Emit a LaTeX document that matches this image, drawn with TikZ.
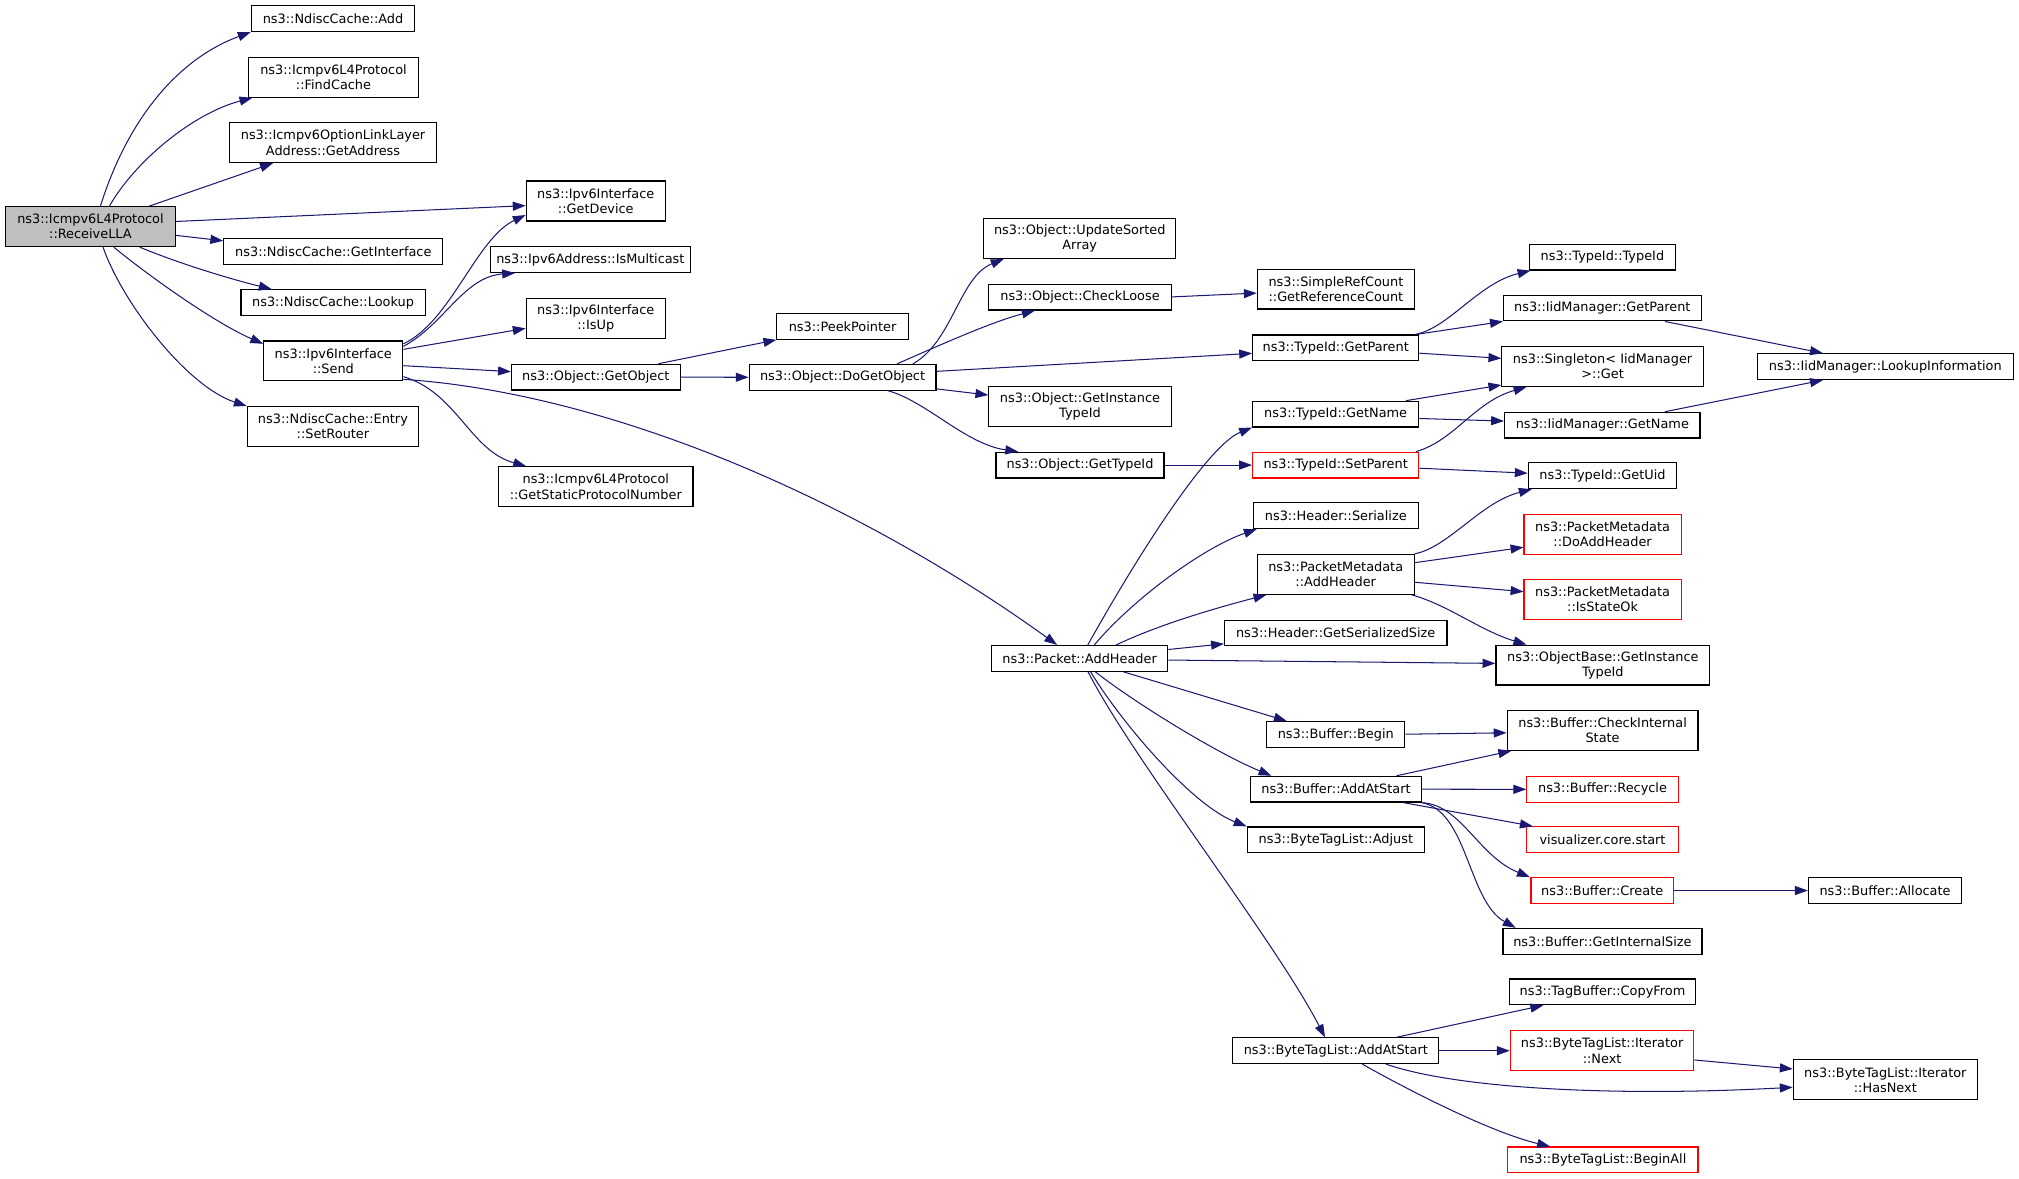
\documentclass[tikz,border=0pt]{standalone}
\usepackage{fontspec}
\usetikzlibrary{arrows.meta,calc}
\newfontfamily\dvfont{DejaVu Sans}
\definecolor{edgeblue}{HTML}{191970}
\definecolor{nodegray}{HTML}{BFBFBF}
\tikzset{
  box/.style={draw=black, line width=0.9pt, fill=white, inner sep=0pt, align=center,
    font=\dvfont\fontsize{10}{11.7}\selectfont, minimum height=20pt},
  tall/.style={minimum height=31pt},
  redbox/.style={box, draw=red},
  e/.style={draw=edgeblue, line width=0.8pt, -{Triangle[length=10pt,width=7pt]}},
}
\begin{document}
\begin{tikzpicture}[x=1pt, y=-1pt]
\useasboundingbox (0,0) rectangle (1568,915.6);
% column 1
\node[box, tall, fill=nodegray, minimum width=132pt] (rll) at (70.25,176) {ns3::Icmpv6L4Protocol\\::ReceiveLLA};
% column 2
\node[box, minimum width=127pt] (add) at (258.65,14.5) {ns3::NdiscCache::Add};
\node[box, tall, minimum width=132pt] (find) at (259,60) {ns3::Icmpv6L4Protocol\\::FindCache};
\node[box, tall, minimum width=161pt] (opt) at (258.65,110.8) {ns3::Icmpv6OptionLinkLayer\\Address::GetAddress};
\node[box, minimum width=170pt] (getint) at (258.85,195.5) {ns3::NdiscCache::GetInterface};
\node[box, minimum width=143pt] (lookup) at (258.65,235) {ns3::NdiscCache::Lookup};
\node[box, tall, minimum width=108pt] (send) at (258.85,280.3) {ns3::Ipv6Interface\\::Send};
\node[box, tall, minimum width=133pt] (setrouter) at (258.55,331.3) {ns3::NdiscCache::Entry\\::SetRouter};
% column 3
\node[box, tall, minimum width=108pt] (getdev) at (462.7,156.1) {ns3::Ipv6Interface\\::GetDevice};
\node[box, minimum width=155pt] (ismc) at (458.5,201.6) {ns3::Ipv6Address::IsMulticast};
\node[box, tall, minimum width=108pt] (isup) at (462.7,247.3) {ns3::Ipv6Interface\\::IsUp};
\node[box, minimum width=131pt] (getobj) at (462.75,292.9) {ns3::Object::GetObject};
\node[box, tall, minimum width=151pt] (gspn) at (462.7,378) {ns3::Icmpv6L4Protocol\\::GetStaticProtocolNumber};
% column 4
\node[box, minimum width=102pt] (peek) at (654.35,253.5) {ns3::PeekPointer};
\node[box, minimum width=145pt] (dogo) at (654.35,293) {ns3::Object::DoGetObject};
% column 5
\node[box, tall, minimum width=149pt] (usa) at (838.55,185.2) {ns3::Object::UpdateSorted\\Array};
\node[box, minimum width=141.5pt] (cl) at (838.75,230.8) {ns3::Object::CheckLoose};
\node[box, tall, minimum width=141.5pt] (git) at (838.75,315.7) {ns3::Object::GetInstance\\TypeId};
\node[box, minimum width=130.5pt] (gtid) at (838.75,361.2) {ns3::Object::GetTypeId};
\node[box, minimum width=137pt] (pah) at (838.45,511.3) {ns3::Packet::AddHeader};
% column 6
\node[box, tall, minimum width=122pt] (src) at (1037.5,224.5) {ns3::SimpleRefCount\\::GetReferenceCount};
\node[box, minimum width=129pt] (tgp) at (1037.35,270.2) {ns3::TypeId::GetParent};
\node[box, minimum width=129pt] (tgn) at (1037.3,321.6) {ns3::TypeId::GetName};
\node[redbox, minimum width=129pt] (tsp) at (1037.3,361.2) {ns3::TypeId::SetParent};
\node[box, minimum width=128pt] (hser) at (1037.4,400.5) {ns3::Header::Serialize};
\node[box, tall, minimum width=122pt] (pmah) at (1037.35,446) {ns3::PacketMetadata\\::AddHeader};
\node[box, minimum width=172.7pt] (gss) at (1037.35,491.6) {ns3::Header::GetSerializedSize};
\node[box, minimum width=107pt] (bbeg) at (1037.4,570.4) {ns3::Buffer::Begin};
\node[box, minimum width=132.3pt] (baas) at (1037.55,612.9) {ns3::Buffer::AddAtStart};
\node[box, minimum width=137.7pt] (btladj) at (1037.45,652.2) {ns3::ByteTagList::Adjust};
\node[box, minimum width=160pt] (btlaas) at (1037.45,816) {ns3::ByteTagList::AddAtStart};
% column 7
\node[box, minimum width=113pt] (tti) at (1244.45,199.7) {ns3::TypeId::TypeId};
\node[box, minimum width=153.6pt] (igp) at (1244.4,239.2) {ns3::IidManager::GetParent};
\node[box, tall, minimum width=156.4pt] (sing) at (1244.6,284.6) {ns3::Singleton< IidManager\\>::Get};
\node[box, minimum width=151.8pt] (ign) at (1244.4,330.2) {ns3::IidManager::GetName};
\node[box, minimum width=115.3pt] (guid) at (1244.55,369.5) {ns3::TypeId::GetUid};
\node[redbox, tall, minimum width=122pt] (dah) at (1244.6,415) {ns3::PacketMetadata\\::DoAddHeader};
\node[redbox, tall, minimum width=122pt] (iso) at (1244.6,465.7) {ns3::PacketMetadata\\::IsStateOk};
\node[box, tall, minimum width=166pt] (obgit) at (1244.8,516.5) {ns3::ObjectBase::GetInstance\\TypeId};
\node[box, tall, minimum width=148.2pt] (cis) at (1244.6,567.2) {ns3::Buffer::CheckInternal\\State};
\node[redbox, minimum width=117.5pt] (rec) at (1244.55,613) {ns3::Buffer::Recycle};
\node[redbox, minimum width=117.5pt] (vis) at (1244.55,652.1) {visualizer.core.start};
\node[redbox, minimum width=110.6pt] (bcr) at (1244.3,691.6) {ns3::Buffer::Create};
\node[box, minimum width=154.6pt] (gis) at (1244.5,731) {ns3::Buffer::GetInternalSize};
\node[box, minimum width=145pt] (tbcf) at (1244.5,770.3) {ns3::TagBuffer::CopyFrom};
\node[redbox, tall, minimum width=142.5pt] (btnx) at (1244.25,816) {ns3::ByteTagList::Iterator\\::Next};
\node[redbox, minimum width=147.7pt] (btba) at (1244.85,900.8) {ns3::ByteTagList::BeginAll};
% column 8
\node[box, minimum width=198.7pt] (lki) at (1464.15,284.75) {ns3::IidManager::LookupInformation};
\node[box, minimum width=119pt] (balloc) at (1463.95,691.6) {ns3::Buffer::Allocate};
\node[box, tall, minimum width=143pt] (hasn) at (1464.2,838.6) {ns3::ByteTagList::Iterator\\::HasNext};

% edges from ReceiveLLA
\draw[e] (78,0 |- rll.north) .. controls (100,90) and (140,45) .. (add.south west);
\draw[e] (85,0 |- rll.north) .. controls (105,125) and (150,88) .. (196,0 |- find.south);
\draw[e] (116,0 |- rll.north) -- (212,0 |- opt.south);
\draw[e] (rll.east |- 0,172) -- (getdev.west |- 0,159.7);
\draw[e] (rll.east |- 0,182.8) -- (getint.west |- 0,187);
\draw[e] (108.5,0 |- rll.south) .. controls (140,205) and (180,217) .. (211,0 |- lookup.north);
\draw[e] (88.4,0 |- rll.south) .. controls (110,210) and (165,250) .. (send.west |- 0,267);
\draw[e] (80,0 |- rll.south) .. controls (95,235) and (145,300) .. (setrouter.north west);
% edges from Send
\draw[e] (send.east |- 0,267) .. controls (350,250) and (370,185) .. (getdev.west |- 0,167);
\draw[e] (send.east |- 0,269) .. controls (345,252) and (360,215) .. (400,0 |- ismc.south);
\draw[e] (send.east |- 0,271.3) -- (isup.west |- 0,255);
\draw[e] (send.east |- 0,284) -- (getobj.west |- 0,288.6);
\draw[e] (send.east |- 0,292.5) .. controls (355,305) and (365,350) .. (408.6,0 |- gspn.north);
\draw[e] (send.east |- 0,294.6) .. controls (470,305) and (660,385) .. (821,0 |- pah.north);
% GetObject
\draw[e] (511.4,0 |- getobj.north) -- (peek.south west);
\draw[e] (getobj.east) -- (dogo.west);
% DoGetObject
\draw[e] (709,0 |- dogo.north) .. controls (740,265) and (745,215) .. (779.5,0 |- usa.south);
\draw[e] (696.7,0 |- dogo.north) .. controls (730,268) and (770,250) .. (803.6,0 |- cl.south);
\draw[e] (dogo.east |- 0,288.4) -- (tgp.west |- 0,274.4);
\draw[e] (dogo.east |- 0,302) -- (git.west |- 0,306.8);
\draw[e] (689.7,0 |- dogo.south) .. controls (720,312) and (750,345) .. (790.7,0 |- gtid.north);
\draw[e] (cl.east |- 0,230.6) -- (src.west |- 0,227.6);
\draw[e] (gtid.east) -- (tsp.west);
% TypeId nodes
\draw[e] (1099,0 |- tgp.north) .. controls (1125,255) and (1148,220) .. (1188.6,0 |- tti.south);
\draw[e] (1099.5,0 |- tgp.north) -- (igp.south west);
\draw[e] (tgp.east |- 0,274.3) -- (sing.west |- 0,278.3);
\draw[e] (1092,0 |- tgn.north) -- (sing.west |- 0,299);
\draw[e] (tgn.east |- 0,325) -- (ign.west |- 0,327);
\draw[e] (1099.6,0 |- tsp.north) .. controls (1130,342) and (1145,312) .. (1185.5,0 |- sing.south);
\draw[e] (tsp.east |- 0,363.6) -- (guid.west |- 0,367.5);
\draw[e] (1293,0 |- igp.south) -- (1415.7,0 |- lki.north);
\draw[e] (1293,0 |- ign.north) -- (1415.7,0 |- lki.south);
% Packet::AddHeader
\draw[e] (844.8,0 |- pah.north) .. controls (890,420) and (940,345) .. (tgn.south west);
\draw[e] (849.9,0 |- pah.north) .. controls (880,465) and (935,425) .. (976,0 |- hser.south);
\draw[e] (866.9,0 |- pah.north) .. controls (900,485) and (945,472) .. (983.5,0 |- pmah.south);
\draw[e] (pah.east |- 0,504.4) -- (gss.west |- 0,500);
\draw[e] (pah.east |- 0,512.6) -- (obgit.west |- 0,515.2);
\draw[e] (872.5,0 |- pah.south) -- (999.3,0 |- bbeg.north);
\draw[e] (850.7,0 |- pah.south) .. controls (880,545) and (945,585) .. (987.4,0 |- baas.north);
\draw[e] (847,0 |- pah.south) .. controls (870,560) and (925,625) .. (btladj.north west);
\draw[e] (845,0 |- pah.south) .. controls (880,590) and (990,730) .. (1029,0 |- btlaas.north);
% PacketMetadata::AddHeader
\draw[e] (pmah.north east) .. controls (1125,425) and (1150,390) .. (1189.6,0 |- guid.south);
\draw[e] (pmah.east |- 0,437) -- (dah.west |- 0,425);
\draw[e] (pmah.east |- 0,452.2) -- (iso.west |- 0,459.5);
\draw[e] (1096.4,0 |- pmah.south) .. controls (1125,470) and (1150,490) .. (1185.4,0 |- obgit.north);
% Buffer
\draw[e] (bbeg.east |- 0,570.2) -- (cis.west |- 0,569.1);
\draw[e] (1084.6,0 |- baas.north) -- (1173.7,0 |- cis.south);
\draw[e] (baas.east) -- (rec.west);
\draw[e] (1090,0 |- baas.south) -- (1190.4,0 |- vis.north);
\draw[e] (baas.south east) .. controls (1135,625) and (1148,665) .. (1188.1,0 |- bcr.north);
\draw[e] (baas.south east) .. controls (1140,630) and (1140,700) .. (1177.1,0 |- gis.north);
\draw[e] (bcr.east) -- (balloc.west);
% ByteTagList::AddAtStart
\draw[e] (1084.6,0 |- btlaas.north) -- (1198.5,0 |- tbcf.south);
\draw[e] (btlaas.east) -- (btnx.west |- 0,816);
\draw[e] (1076.5,0 |- btlaas.south) .. controls (1130,845) and (1250,852) .. (hasn.west |- 0,844.4);
\draw[e] (1058,0 |- btlaas.south) .. controls (1100,850) and (1160,880) .. (1203.8,0 |- btba.north);
\draw[e] (btnx.east |- 0,823.2) -- (hasn.west |- 0,830.2);
\end{tikzpicture}
\end{document}
